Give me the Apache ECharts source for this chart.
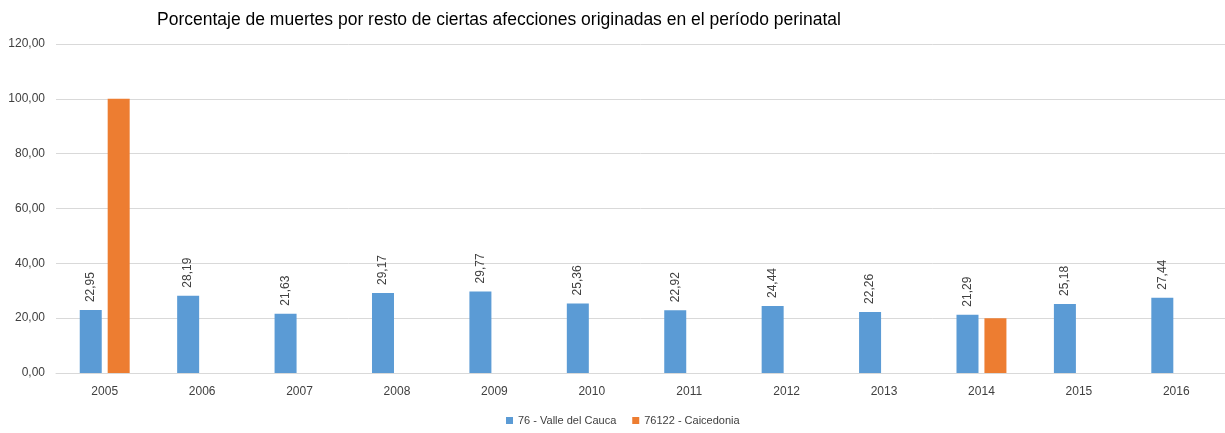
<!DOCTYPE html>
<html>
<head>
<meta charset="utf-8">
<script src="https://cdn.jsdelivr.net/npm/echarts@6/dist/echarts.min.js"></script>
<style>
  html, body { margin: 0; padding: 0; background: #fff; }
  #chart { width: 1225px; height: 433px; }
</style>
</head>
<body>
<div id="chart"></div>
<script>
const years = ['2005', '2006', '2007', '2008', '2009', '2010', '2011', '2012', '2013', '2014', '2015', '2016'];
const valle = [22.95, 28.19, 21.63, 29.17, 29.77, 25.36, 22.92, 24.44, 22.26, 21.29, 25.18, 27.44];
const caicedonia = [100, null, null, null, null, null, null, null, null, 20, null, null];
const seriesNames = ['76 - Valle del Cauca', '76122 - Caicedonia'];

const FONT = "'Liberation Sans', Arial, sans-serif";
const fmt = v => Number(v).toFixed(2).replace('.', ',');

const chart = echarts.init(document.getElementById('chart'));
chart.setOption({
  backgroundColor: '#fff',
  animation: false,
  title: {
    text: 'Porcentaje de muertes por resto de ciertas afecciones originadas en el período perinatal',
    left: 152,
    top: 6,
    textStyle: { fontFamily: FONT, fontSize: 17.5, fontWeight: 'normal', color: '#000' }
  },
  grid: { left: 56, right: 0, top: 44, bottom: 60, containLabel: false },
  legend: {
    data: seriesNames,
    bottom: 2,
    left: 501,
    itemWidth: 7,
    itemHeight: 7,
    itemGap: 16,
    icon: 'rect',
    textStyle: { fontFamily: FONT, fontSize: 11, color: '#404040' }
  },
  xAxis: {
    type: 'category',
    data: years,
    axisTick: { show: false },
    axisLine: { lineStyle: { color: '#d9d9d9' } },
    axisLabel: { fontFamily: FONT, fontSize: 12, color: '#404040', margin: 13 }
  },
  yAxis: {
    type: 'value',
    min: 0,
    max: 120,
    interval: 20,
    axisLabel: { fontFamily: FONT, fontSize: 12, color: '#404040', margin: 11, formatter: fmt },
    splitLine: { lineStyle: { color: '#d9d9d9' } }
  },
  series: [
    {
      name: seriesNames[0],
      type: 'bar',
      data: valle,
      barWidth: 22,
      barGap: '27%',
      itemStyle: { color: '#5b9bd5' },
      label: {
        show: true,
        position: 'top',
        rotate: 90,
        align: 'left',
        verticalAlign: 'middle',
        distance: 8,
        fontFamily: FONT,
        fontSize: 12,
        color: '#404040',
        formatter: p => fmt(p.value)
      }
    },
    {
      name: seriesNames[1],
      type: 'bar',
      data: caicedonia,
      barWidth: 22,
      barGap: '27%',
      itemStyle: { color: '#ed7d31' }
    }
  ]
});
</script>
</body>
</html>
